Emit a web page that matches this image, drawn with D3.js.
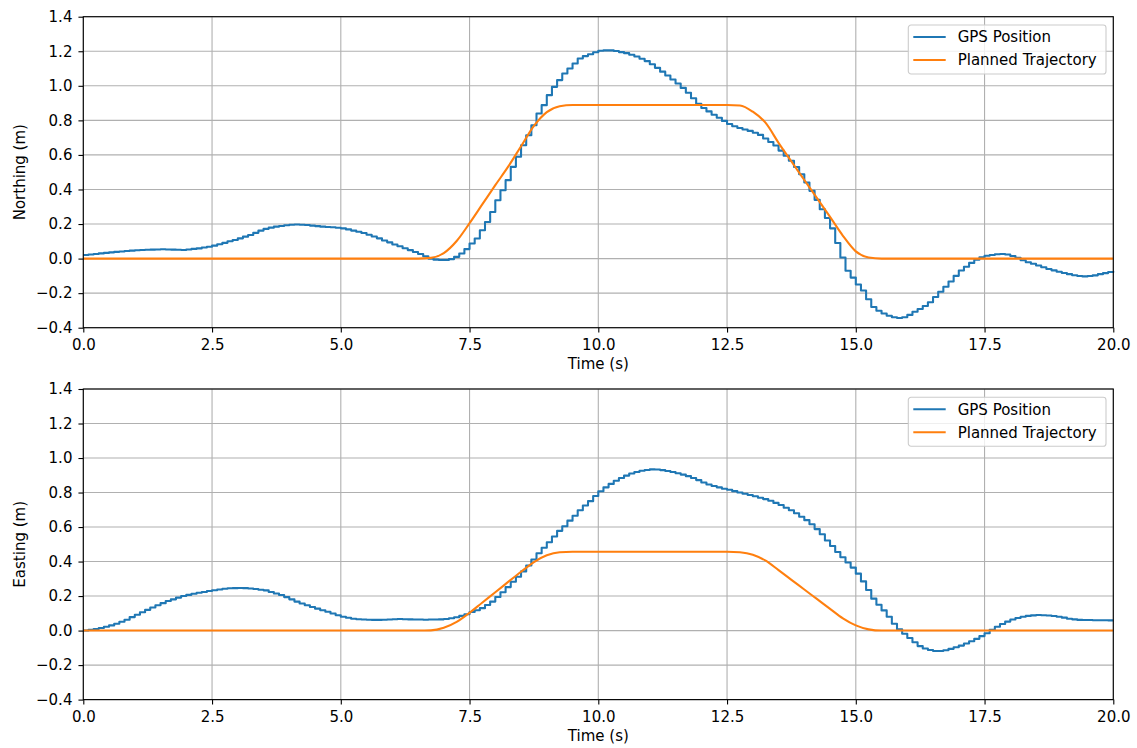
<!DOCTYPE html>
<html><head><meta charset="utf-8">
<script src="https://cdn.jsdelivr.net/npm/d3@7"></script>
<style>body{margin:0;background:#fff} text{font-family:"DejaVu Sans",sans-serif}</style>
</head><body><svg id="c" width="1137" height="748"></svg>
<script>
// GPS samples every 0.1 s from 0.0 to 20.0 s
const gpsNorth = [
0.021,0.024,0.027,0.030,0.033,0.036,0.039,0.041,0.044,0.046,
0.048,0.050,0.051,0.052,0.053,0.054,0.053,0.052,0.051,0.050,
0.053,0.056,0.059,0.064,0.069,0.075,0.083,0.091,0.100,0.108,
0.117,0.127,0.137,0.149,0.162,0.172,0.179,0.185,0.189,0.193,
0.196,0.197,0.196,0.194,0.191,0.188,0.185,0.183,0.181,0.178,
0.175,0.169,0.162,0.155,0.148,0.138,0.128,0.117,0.105,0.094,
0.082,0.071,0.060,0.049,0.038,0.027,0.014,0.000,-0.006,-0.008,
-0.008,-0.003,0.010,0.029,0.055,0.087,0.116,0.164,0.212,0.270,
0.338,0.396,0.454,0.531,0.589,0.656,0.714,0.772,0.840,0.888,
0.946,0.994,1.033,1.071,1.100,1.129,1.158,1.172,1.183,1.194,
1.203,1.205,1.205,1.201,1.195,1.189,1.180,1.170,1.157,1.143,
1.125,1.104,1.082,1.060,1.037,1.013,0.988,0.960,0.928,0.896,
0.872,0.852,0.833,0.815,0.797,0.779,0.766,0.756,0.747,0.739,
0.728,0.716,0.695,0.675,0.655,0.625,0.595,0.566,0.530,0.488,
0.440,0.392,0.340,0.286,0.235,0.175,0.090,0.006,-0.070,-0.110,
-0.150,-0.185,-0.235,-0.280,-0.302,-0.318,-0.331,-0.340,-0.344,-0.340,
-0.326,-0.308,-0.292,-0.274,-0.253,-0.222,-0.192,-0.163,-0.133,-0.100,
-0.069,-0.047,-0.025,-0.007,0.008,0.016,0.021,0.025,0.027,0.024,
0.015,0.005,-0.010,-0.021,-0.030,-0.040,-0.050,-0.060,-0.068,-0.076,
-0.083,-0.090,-0.096,-0.101,-0.103,-0.101,-0.097,-0.090,-0.084,-0.078,
-0.073];
const gpsEast = [
0.000,0.004,0.009,0.015,0.022,0.030,0.040,0.051,0.063,0.078,
0.092,0.106,0.120,0.134,0.147,0.159,0.171,0.181,0.191,0.200,
0.207,0.213,0.219,0.224,0.229,0.234,0.238,0.242,0.245,0.246,
0.247,0.246,0.244,0.241,0.237,0.233,0.224,0.215,0.206,0.194,
0.181,0.168,0.157,0.147,0.137,0.127,0.118,0.109,0.099,0.089,
0.080,0.074,0.069,0.066,0.064,0.063,0.062,0.062,0.063,0.064,
0.066,0.067,0.066,0.065,0.064,0.064,0.063,0.064,0.064,0.065,
0.067,0.071,0.077,0.085,0.095,0.108,0.118,0.130,0.148,0.168,
0.195,0.222,0.252,0.283,0.312,0.343,0.377,0.412,0.448,0.480,
0.512,0.545,0.578,0.605,0.637,0.665,0.697,0.725,0.750,0.780,
0.807,0.830,0.850,0.868,0.884,0.898,0.910,0.919,0.926,0.931,
0.934,0.933,0.930,0.925,0.919,0.912,0.904,0.895,0.884,0.872,
0.858,0.847,0.838,0.830,0.822,0.816,0.808,0.800,0.793,0.786,
0.778,0.770,0.762,0.752,0.740,0.728,0.712,0.697,0.680,0.660,
0.640,0.616,0.588,0.558,0.522,0.490,0.455,0.425,0.395,0.365,
0.330,0.285,0.235,0.185,0.150,0.117,0.080,0.040,0.008,-0.018,
-0.043,-0.068,-0.090,-0.104,-0.113,-0.118,-0.118,-0.114,-0.106,-0.097,
-0.087,-0.075,-0.062,-0.048,-0.032,-0.015,0.005,0.022,0.038,0.052,
0.064,0.073,0.080,0.085,0.088,0.090,0.089,0.087,0.084,0.080,
0.075,0.069,0.065,0.062,0.061,0.061,0.060,0.060,0.060,0.059,
0.059];
// Planned trajectory samples every 0.25 s from 0.0 to 20.0 s
const plannedNorth = [
0,0,0,0,0,0,0,0,0,0,0,0,0,0,0,0,0,0,0,0,0,0,0,0,0,0,0,
0.004,0.032,0.102,0.205,0.315,0.425,0.532,0.650,0.768,0.848,0.882,0.889,
0.889,0.889,0.889,0.889,0.889,0.889,0.889,0.889,0.889,0.889,0.889,0.889,
0.886,0.850,0.785,0.670,0.562,0.455,0.348,0.241,0.132,0.042,0.006,
0,0,0,0,0,0,0,0,0,0,0,0,0,0,0,0,0,0,0];
const plannedEast = [
0,0,0,0,0,0,0,0,0,0,0,0,0,0,0,0,0,0,0,0,0,0,0,0,0,0,0,
0.001,0.016,0.05,0.103,0.163,0.222,0.282,0.341,0.397,0.436,0.454,0.457,
0.457,0.457,0.457,0.457,0.457,0.457,0.457,0.457,0.457,0.457,0.457,0.457,
0.454,0.440,0.405,0.350,0.294,0.238,0.182,0.126,0.071,0.030,0.007,
0,0,0,0,0,0,0,0,0,0,0,0,0,0,0,0,0,0,0];
const gpsDt = 0.1, plannedDt = 0.25;
const xTicks = [0,2.5,5,7.5,10,12.5,15,17.5,20];
const yTicks = [-0.4,-0.2,0,0.2,0.4,0.6,0.8,1.0,1.2,1.4];
const seriesNames = ["GPS Position","Planned Trajectory"];
const seriesColors = ["#1f77b4","#ff7f0e"];
const yLabels = ["Northing (m)","Easting (m)"];
const xLabel = "Time (s)";

const svg = d3.select("#c");
const L = 83.3, R = 1113.3;
const panels = [
  {top:16.7, bottom:327.7, gps:gpsNorth, plan:plannedNorth, ylab:yLabels[0]},
  {top:389.0, bottom:699.6, gps:gpsEast, plan:plannedEast, ylab:yLabels[1]}
];
const fs = 15;
panels.forEach(p => {
  const x = d3.scaleLinear().domain([0,20]).range([L,R]);
  const y = d3.scaleLinear().domain([-0.4,1.4]).range([p.bottom,p.top]);
  const g = svg.append("g");
  // grid
  g.append("g").selectAll("line").data(xTicks).join("line")
    .attr("x1",d=>x(d)).attr("x2",d=>x(d)).attr("y1",p.top).attr("y2",p.bottom)
    .attr("stroke","#b0b0b0").attr("stroke-width",1.1);
  g.append("g").selectAll("line").data(yTicks).join("line")
    .attr("x1",L).attr("x2",R).attr("y1",d=>y(d)).attr("y2",d=>y(d))
    .attr("stroke","#b0b0b0").attr("stroke-width",1.1);
  // lines
  const gpsLine = d3.line().x((d,i)=>x(i*gpsDt)).y(d=>y(d)).curve(d3.curveStepAfter);
  const planLine = d3.line().x((d,i)=>x(i*plannedDt)).y(d=>y(d)).curve(d3.curveMonotoneX);
  g.append("path").attr("d",gpsLine(p.gps)).attr("fill","none")
    .attr("stroke",seriesColors[0]).attr("stroke-width",2.08).attr("stroke-linejoin","round");
  g.append("path").attr("d",planLine(p.plan)).attr("fill","none")
    .attr("stroke",seriesColors[1]).attr("stroke-width",2.08).attr("stroke-linejoin","round");
  // axes
  const xa = g.append("g").attr("transform",`translate(0,${p.bottom})`)
    .call(d3.axisBottom(x).tickValues(xTicks).tickFormat(d3.format(".1f")).tickSize(4.86).tickPadding(6.5).tickSizeOuter(0));
  const ya = g.append("g").attr("transform",`translate(${L},0)`)
    .call(d3.axisLeft(y).tickValues(yTicks).tickFormat(d3.format(".1f")).tickSize(4.86).tickPadding(6).tickSizeOuter(0));
  [xa,ya].forEach(a=>{
    a.select(".domain").remove();
    a.selectAll("line").attr("stroke","#000").attr("stroke-width",1.1);
    a.selectAll("text").attr("font-size",fs).attr("fill","#000").attr("font-family","DejaVu Sans");
  });
  // spines
  g.append("rect").attr("x",L).attr("y",p.top).attr("width",R-L).attr("height",p.bottom-p.top)
    .attr("fill","none").attr("stroke","#000").attr("stroke-width",1.1);
  // labels
  g.append("text").attr("x",(L+R)/2).attr("y",p.bottom+41).attr("text-anchor","middle")
    .attr("font-size",fs).text(xLabel);
  g.append("text").attr("transform",`translate(25,${(p.top+p.bottom)/2}) rotate(-90)`)
    .attr("text-anchor","middle").attr("font-size",fs).text(p.ylab);
  // legend
  const lg = g.append("g").attr("transform",`translate(908.3,${p.top+8.3})`);
  lg.append("rect").attr("width",197.7).attr("height",49).attr("rx",2.8)
    .attr("fill","#fff").attr("fill-opacity",0.8).attr("stroke","#cccccc").attr("stroke-width",1.1);
  seriesNames.forEach((n,i)=>{
    const yy = 12 + i*23;
    lg.append("line").attr("x1",5).attr("x2",37.4).attr("y1",yy).attr("y2",yy)
      .attr("stroke",seriesColors[i]).attr("stroke-width",2.08);
    lg.append("text").attr("x",49.4).attr("y",yy).attr("dy","0.36em").attr("font-size",fs).text(n);
  });
});
</script></body></html>
